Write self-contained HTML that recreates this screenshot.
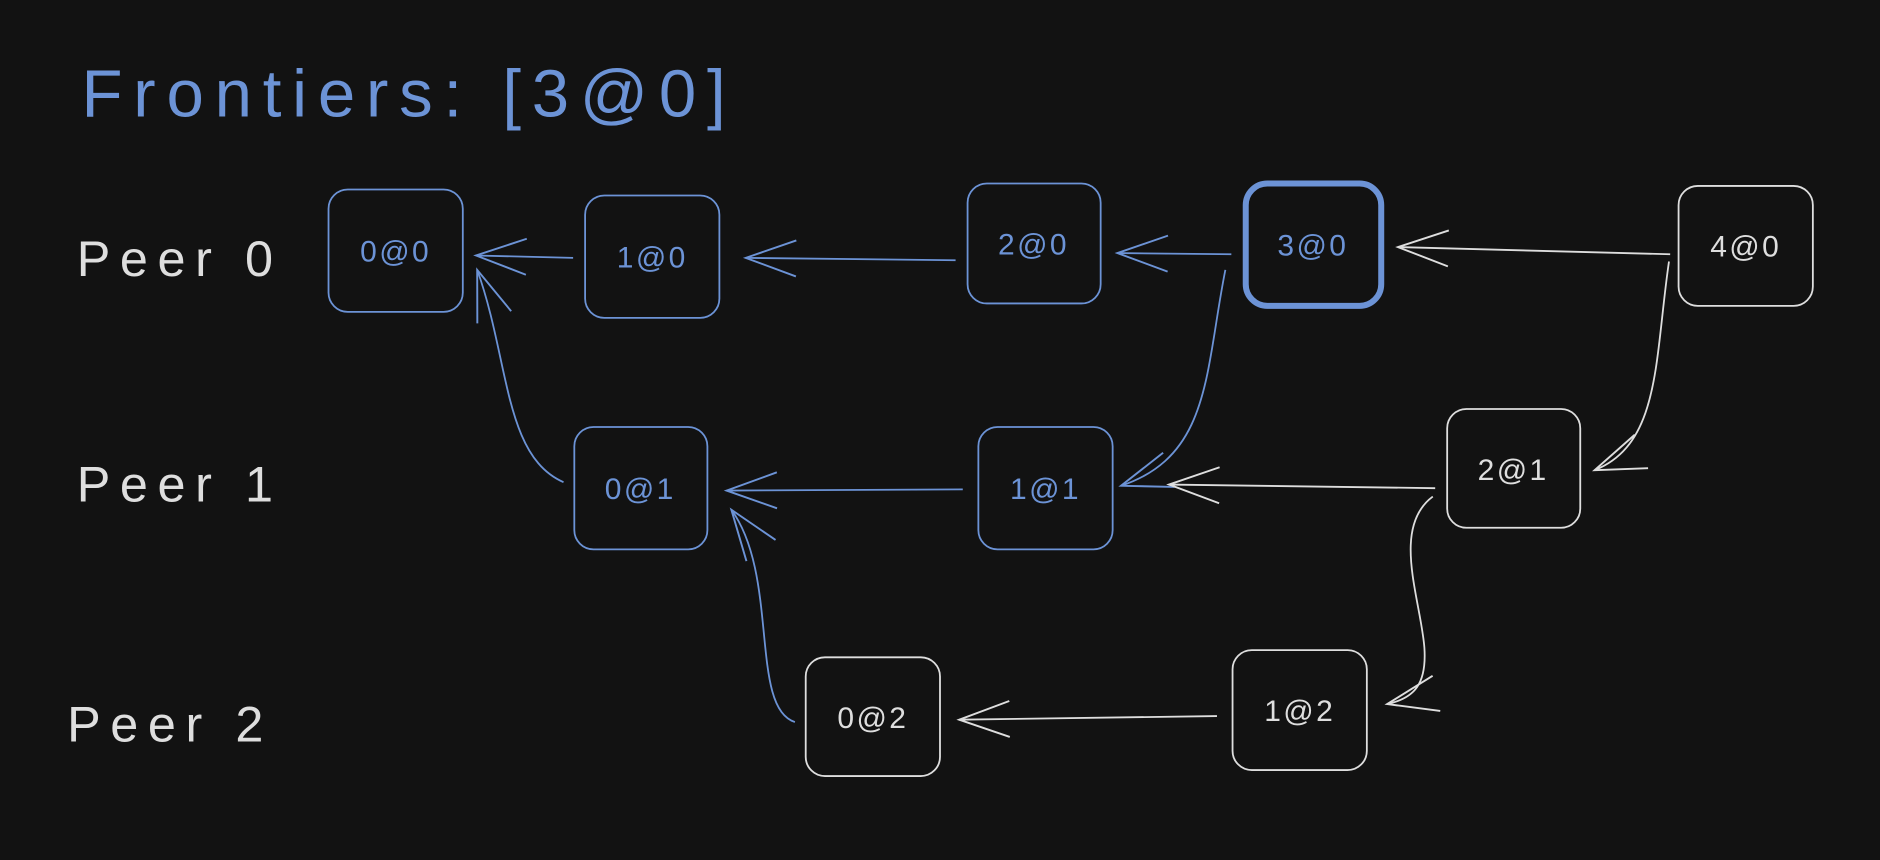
<!DOCTYPE html>
<html><head><meta charset="utf-8"><style>
html,body{margin:0;padding:0;background:#121212;}
svg{display:block;}
text{font-family:"Liberation Sans",sans-serif;}
</style></head><body>
<svg width="1880" height="860" viewBox="0 0 1568 717" preserveAspectRatio="none" xmlns="http://www.w3.org/2000/svg">
<defs>
<marker id="b" viewBox="-50 -20 55 40" markerWidth="55" markerHeight="40" refX="0" refY="0" orient="auto" markerUnits="userSpaceOnUse">
<path d="M-42,-15 L0,0 L-42,15" fill="none" stroke="#6c93d6" stroke-width="1.6"/></marker>
<marker id="w" viewBox="-50 -20 55 40" markerWidth="55" markerHeight="40" refX="0" refY="0" orient="auto" markerUnits="userSpaceOnUse">
<path d="M-42,-15 L0,0 L-42,15" fill="none" stroke="#dedede" stroke-width="1.6"/></marker>
</defs>
<rect width="1568" height="717" fill="#121212"/>
<text x="68" y="97" font-size="56" fill="#6c93d6" letter-spacing="9">Frontiers: [3@0]</text>
<g font-size="42" fill="#dedede" letter-spacing="8">
<text x="64" y="230">Peer 0</text>
<text x="64" y="418">Peer 1</text>
<text x="56" y="618">Peer 2</text>
</g>
<g fill="none" stroke="#6c93d6" stroke-width="1.5">
<rect x="274" y="158" width="112" height="102" rx="16"/>
<rect x="488" y="163" width="112" height="102" rx="16"/>
<rect x="807" y="153" width="111" height="100" rx="16"/>
<rect x="1039" y="153" width="113" height="102" rx="18" stroke-width="5"/>
<rect x="479" y="356" width="111" height="102" rx="16"/>
<rect x="816" y="356" width="112" height="102" rx="16"/>
<path d="M478,215 L397,213" marker-end="url(#b)"/>
<path d="M797,217 L622,215" marker-end="url(#b)"/>
<path d="M1027,212 L932,211" marker-end="url(#b)"/>
<path d="M1022,225 C1005,310 1010,380 935,405" marker-end="url(#b)"/>
<path d="M803,408 L606,409" marker-end="url(#b)"/>
<path d="M470,402 C420,380 425,300 398,225" marker-end="url(#b)"/>
<path d="M663,602 C625,590 650,480 610,425" marker-end="url(#b)"/>
</g>
<g fill="none" stroke="#dedede" stroke-width="1.5">
<rect x="1400" y="155" width="112" height="100" rx="16"/>
<rect x="1207" y="341" width="111" height="99" rx="16"/>
<rect x="672" y="548" width="112" height="99" rx="16"/>
<rect x="1028" y="542" width="112" height="100" rx="16"/>
<path d="M1393,212 L1166,206" marker-end="url(#w)"/>
<path d="M1392,218 C1380,300 1385,370 1330,392" marker-end="url(#w)"/>
<path d="M1197,407 L975,404" marker-end="url(#w)"/>
<path d="M1195,414 C1160,440 1185,500 1188,540 C1190,570 1180,582 1157,587" marker-end="url(#w)"/>
<path d="M1015,597 L800,600" marker-end="url(#w)"/>
</g>
<g font-size="25" text-anchor="middle" fill="#6c93d6" letter-spacing="2">
<text x="330" y="218">0@0</text>
<text x="544" y="223">1@0</text>
<text x="862" y="212">2@0</text>
<text x="1095" y="213">3@0</text>
<text x="534" y="416">0@1</text>
<text x="872" y="416">1@1</text>
</g>
<g font-size="25" text-anchor="middle" fill="#dedede" letter-spacing="2">
<text x="1456" y="214">4@0</text>
<text x="1262" y="400">2@1</text>
<text x="728" y="607">0@2</text>
<text x="1084" y="601">1@2</text>
</g>
</svg>
</body></html>
